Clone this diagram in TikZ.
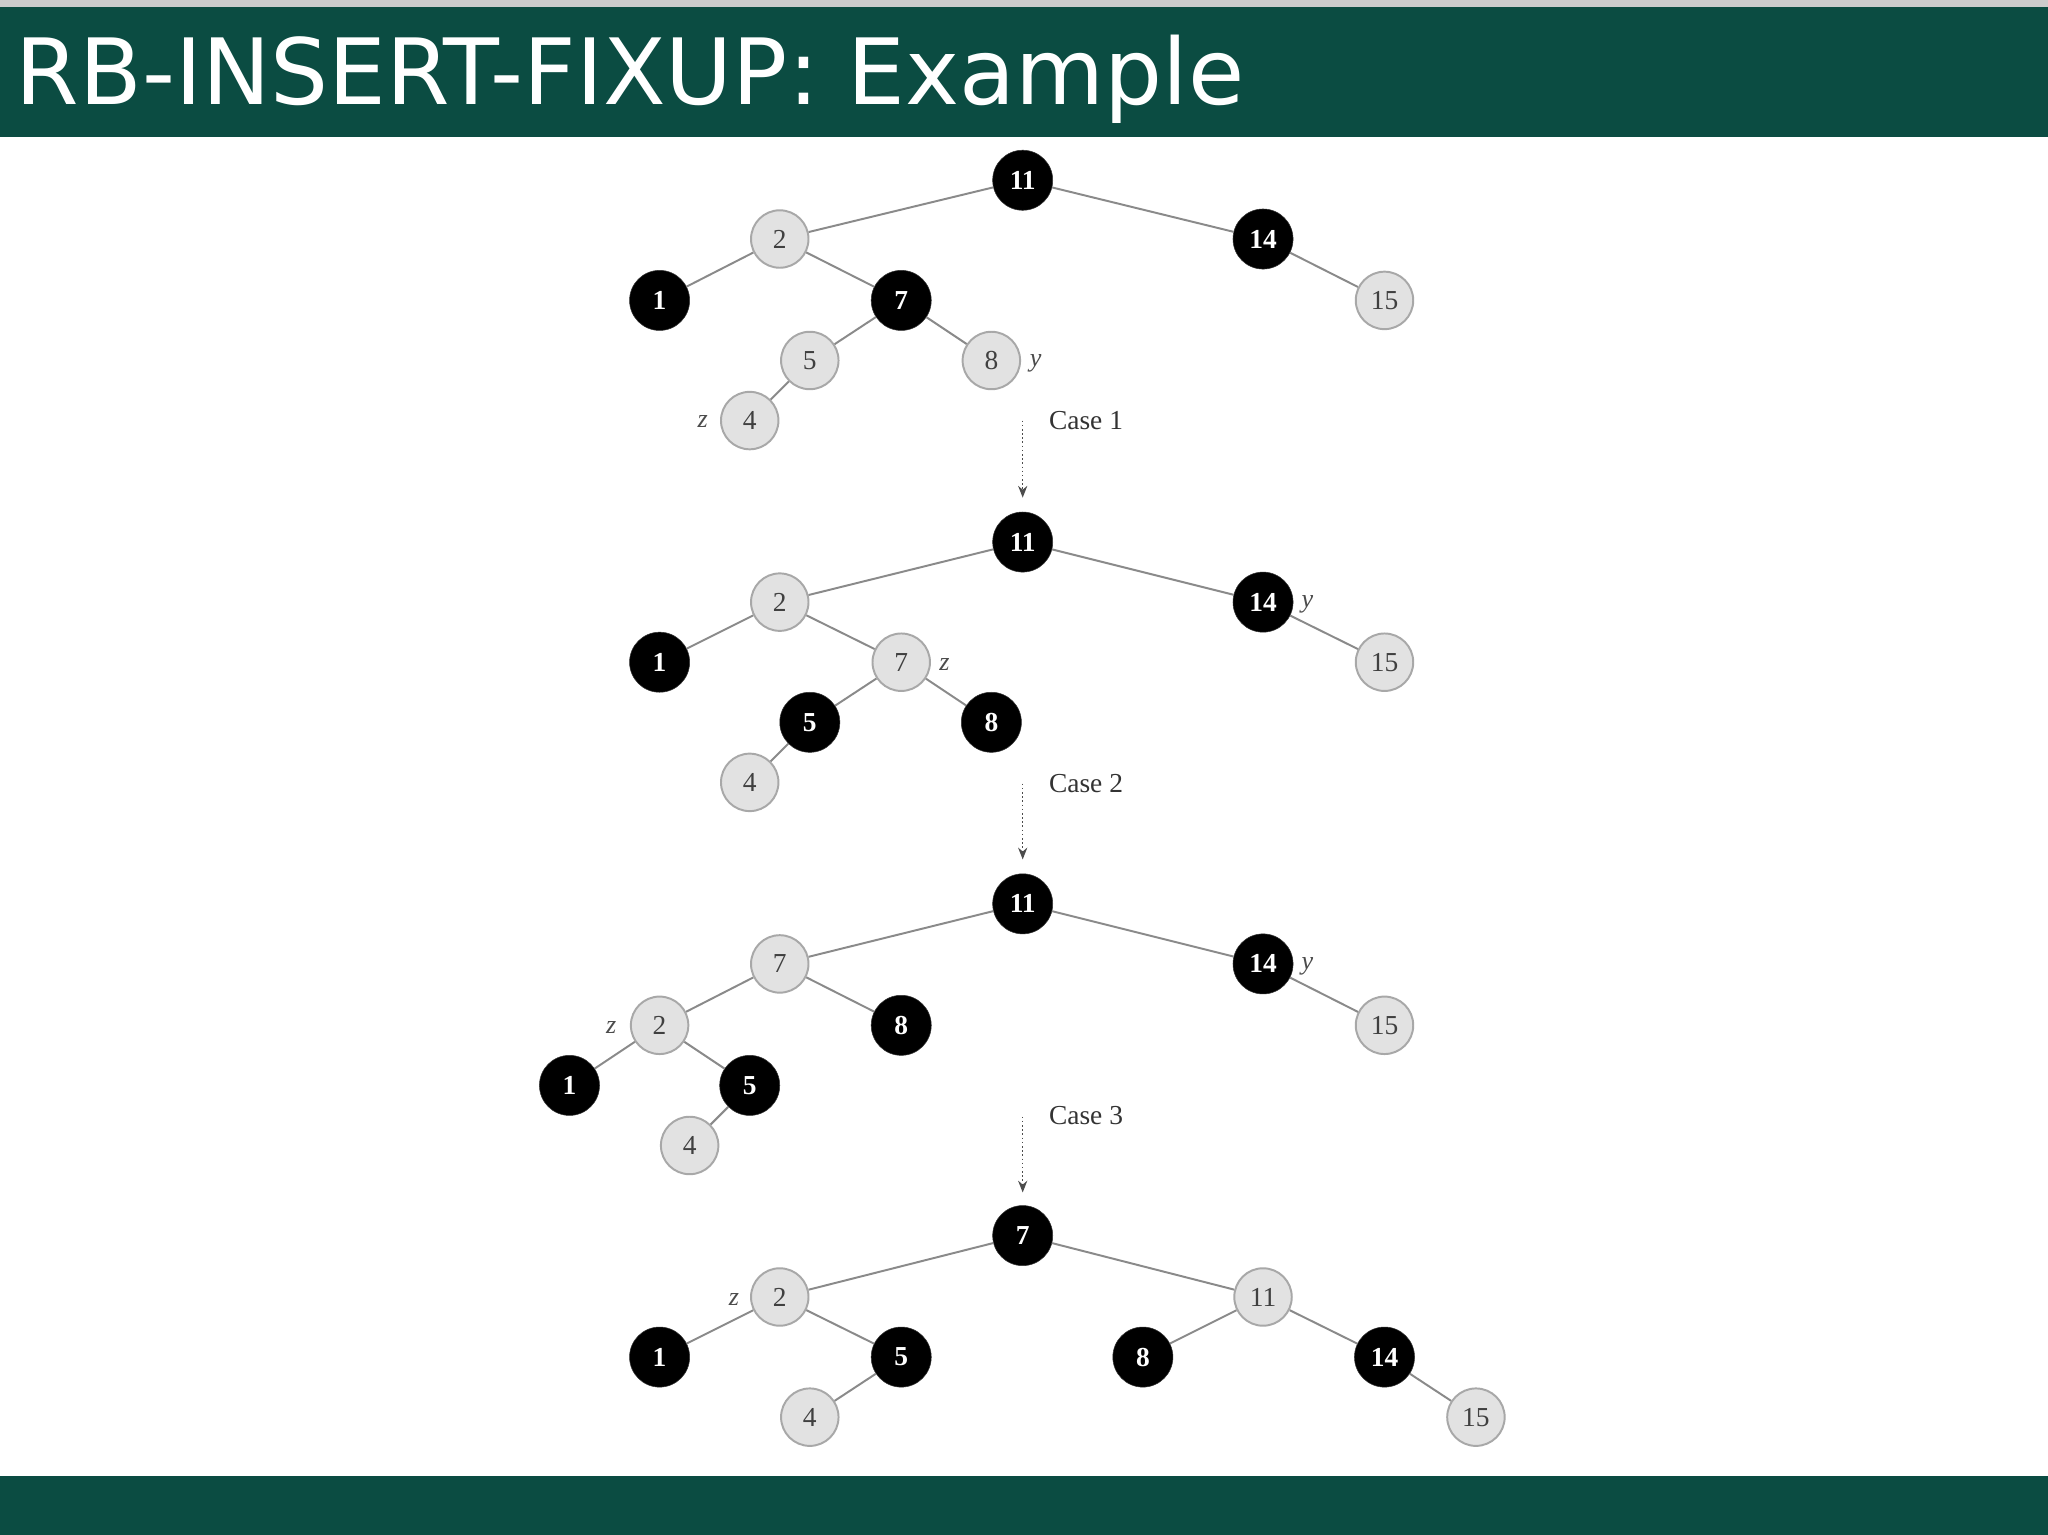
\documentclass[tikz,border=0pt]{standalone}
\usepackage{fontspec}
\setmainfont{Liberation Serif}
\newfontfamily\titlefont{DejaVu Sans}
\usetikzlibrary{arrows.meta}
\definecolor{bar}{HTML}{0B4C42}
\definecolor{gfill}{HTML}{E2E2E2}
\definecolor{gline}{HTML}{A8A8A8}
\definecolor{eline}{HTML}{8A8A8A}
\tikzset{
 bn/.style={circle,fill=black,draw=black!80,minimum size=46pt,inner sep=0pt,text=white,font=\fontsize{21}{21}\selectfont\bfseries},
 gn/.style={circle,fill=gfill,draw=gline,line width=1.5pt,minimum size=44pt,inner sep=0pt,text=black!75,font=\fontsize{21}{21}\selectfont},
 ed/.style={draw=eline,line width=1.5pt},
 lab/.style={font=\fontsize{20}{20}\selectfont\itshape,text=black!70,inner sep=0pt},
 cs/.style={font=\fontsize{21}{21}\selectfont,text=black!80,anchor=west,inner sep=0pt},
 ar/.style={draw=black!70,dotted,line width=1.2pt,-{Stealth[length=9pt,width=7pt]}}
}
\begin{document}
\begin{tikzpicture}[x=1pt,y=-1pt]
\useasboundingbox (0,0) rectangle (1568,1175);
\fill[white] (0,0) rectangle (1568,1175);
\fill[black!20] (0,0) rectangle (1568,5);
\fill[bar] (0,5) rectangle (1568,105);
\fill[bar] (0,1130) rectangle (1568,1175);
\node[anchor=base west,text=white,inner sep=0pt,font=\titlefont\fontsize{70}{70}\selectfont] (title) at (12,80) {RB-INSERT-FIXUP: Example};
% tree 1
\node[bn] (a11) at (783,138) {11};
\node[gn] (a2) at (597,183) {2};
\node[bn] (a14) at (967,183) {14};
\node[bn] (a1) at (505,230) {1};
\node[bn] (a7) at (690,230) {7};
\node[gn] (a15) at (1060,230) {15};
\node[gn] (a5) at (620,276) {5};
\node[gn] (a8) at (759,276) {8};
\node[gn] (a4) at (574,322) {4};
\node[lab] (ay) at (793,278) {y};
\node[lab] (az) at (538,323) {z};
\foreach \p/\c in {a11/a2,a11/a14,a2/a1,a2/a7,a14/a15,a7/a5,a7/a8,a5/a4} \draw[ed] (\p)--(\c);
\coordinate (c1s) at (783,322); \coordinate (c1e) at (783,381);
\draw[ar] (c1s)--(c1e);
\node[cs] (c1) at (803,322) {Case 1};
% tree 2
\node[bn] (b11) at (783,415) {11};
\node[gn] (b2) at (597,461) {2};
\node[bn] (b14) at (967,461) {14};
\node[bn] (b1) at (505,507) {1};
\node[gn] (b7) at (690,507) {7};
\node[gn] (b15) at (1060,507) {15};
\node[bn] (b5) at (620,553) {5};
\node[bn] (b8) at (759,553) {8};
\node[gn] (b4) at (574,599) {4};
\node[lab] (by) at (1001,463) {y};
\node[lab] (bz) at (723,509) {z};
\foreach \p/\c in {b11/b2,b11/b14,b2/b1,b2/b7,b14/b15,b7/b5,b7/b8,b5/b4} \draw[ed] (\p)--(\c);
\coordinate (c2s) at (783,600); \coordinate (c2e) at (783,658);
\draw[ar] (c2s)--(c2e);
\node[cs] (c2) at (803,600) {Case 2};
% tree 3
\node[bn] (d11) at (783,692) {11};
\node[gn] (d7) at (597,738) {7};
\node[bn] (d14) at (967,738) {14};
\node[gn] (d2) at (505,785) {2};
\node[bn] (d8) at (690,785) {8};
\node[gn] (d15) at (1060,785) {15};
\node[bn] (d1) at (436,831) {1};
\node[bn] (d5) at (574,831) {5};
\node[gn] (d4) at (528,877) {4};
\node[lab] (dy) at (1001,740) {y};
\node[lab] (dz) at (468,787) {z};
\foreach \p/\c in {d11/d7,d11/d14,d7/d2,d7/d8,d14/d15,d2/d1,d2/d5,d5/d4} \draw[ed] (\p)--(\c);
\coordinate (c3s) at (783,855); \coordinate (c3e) at (783,913);
\draw[ar] (c3s)--(c3e);
\node[cs] (c3) at (803,854) {Case 3};
% tree 4
\node[bn] (e7) at (783,946) {7};
\node[gn] (e2) at (597,993) {2};
\node[gn] (e11) at (967,993) {11};
\node[bn] (e1) at (505,1039) {1};
\node[bn] (e5) at (690,1039) {5};
\node[bn] (e8) at (875,1039) {8};
\node[bn] (e14) at (1060,1039) {14};
\node[gn] (e4) at (620,1085) {4};
\node[gn] (e15) at (1130,1085) {15};
\node[lab] (ez) at (562,995) {z};
\foreach \p/\c in {e7/e2,e7/e11,e2/e1,e2/e5,e11/e8,e11/e14,e5/e4,e14/e15} \draw[ed] (\p)--(\c);
\end{tikzpicture}
\end{document}
